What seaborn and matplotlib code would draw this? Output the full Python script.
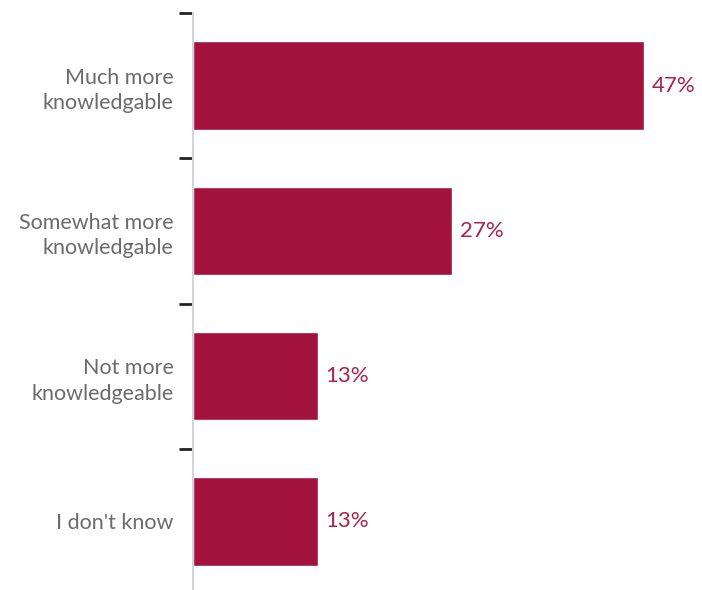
import matplotlib
matplotlib.use("Agg")
import matplotlib.pyplot as plt
import seaborn as sns
import pandas as pd

categories = ["Much more\nknowledgable", "Somewhat more\nknowledgable",
              "Not more\nknowledgeable", "I don't know"]
values = [47, 27, 13, 13]
value_labels = ["47%", "27%", "13%", "13%"]

bar_color = "#A3123D"

sns.set_theme(style="white")
plt.rcParams["font.family"] = ["Lato", "DejaVu Sans"]

df = pd.DataFrame({"category": categories, "value": values})

fig = plt.figure(figsize=(7.02, 5.90), dpi=100)
ax = fig.add_axes([193 / 702, -4 / 590, 509 / 702, 581 / 590])

sns.barplot(data=df, x="value", y="category", orient="h", color=bar_color,
            width=0.61, saturation=1, ax=ax)

for i, (v, lab) in enumerate(zip(values, value_labels)):
    ax.text(v + 0.8, i, lab, va="center", ha="left", fontsize=16,
            color="#A8224C")

ax.set_xlim(0, 53)
ax.set_ylim(3.5, -0.5)
ax.set_xlabel("")
ax.set_ylabel("")
ax.set_xticks([])

# category labels on the left, tick marks at band boundaries
ax.set_yticks([0, 1, 2, 3])
ax.set_yticklabels(categories, fontsize=15.5, color="#6b6b6b", ha="right",
                   linespacing=1.35)
ax.tick_params(axis="y", length=0, pad=14)
ax.set_yticks([-0.5, 0.5, 1.5, 2.5], minor=True)
ax.tick_params(axis="y", which="minor", length=10, width=2, color="#222222",
               left=True, pad=3)

for side in ["top", "right", "bottom"]:
    ax.spines[side].set_visible(False)
ax.spines["left"].set_color("#d4d4d4")
ax.spines["left"].set_linewidth(1.5)

fig.savefig("out.png", dpi=100)
